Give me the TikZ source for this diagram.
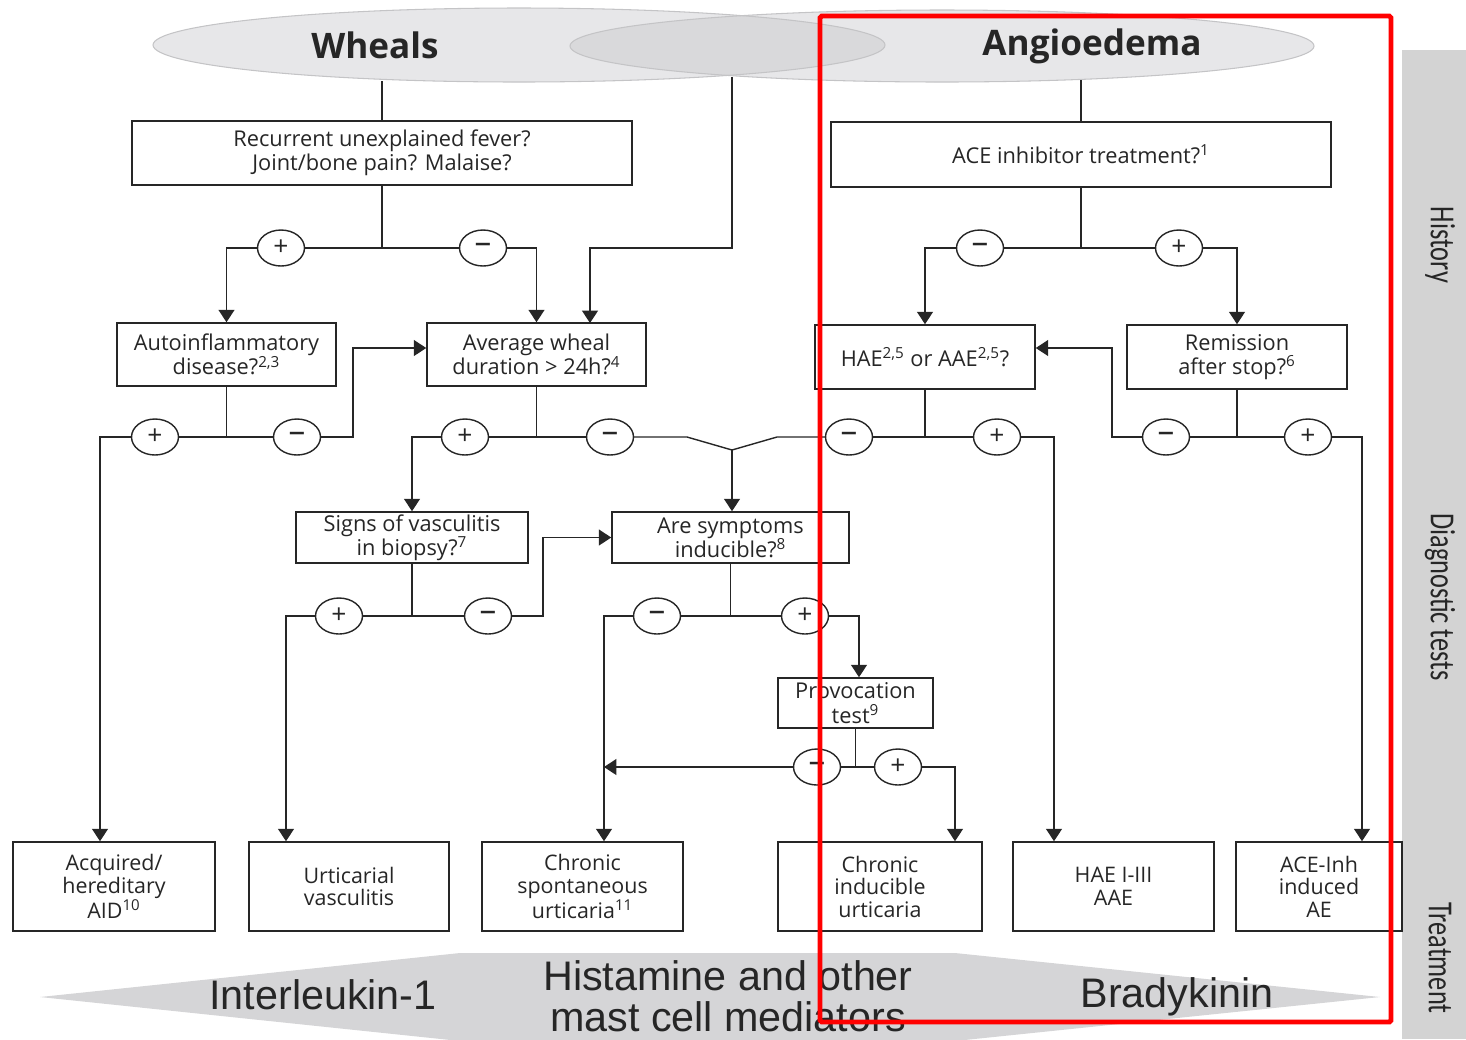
\documentclass[tikz,border=0pt]{standalone}
\usepackage{fontspec}
\setmainfont{Open Sans}
\newfontfamily\barfont{Carlito}
\newfontfamily\medfont{Liberation Sans}
\usetikzlibrary{arrows.meta, shapes.geometric}
\definecolor{inkgray}{HTML}{262626}
\definecolor{capfill}{HTML}{E7E7E9}
\definecolor{capover}{HTML}{D9D9DB}
\definecolor{capline}{HTML}{C4C4C6}
\definecolor{bandgray}{HTML}{D5D5D7}
\definecolor{bargray}{HTML}{D3D3D3}

\begin{document}
\begin{tikzpicture}[x=0.02cm, y=-0.02cm, >={Triangle[length=7pt, width=9pt]},
    every node/.style={text=inkgray},
    qbox/.style={draw=inkgray, line width=0.9pt, align=center, inner sep=0pt, font=\fontsize{12.4}{13.8}\selectfont},
    endbox/.style={qbox, minimum height=1.78cm, font=\fontsize{12.2}{12.8}\selectfont},
    sign/.style={ellipse, draw=inkgray, fill=white, line width=0.8pt, minimum width=0.94cm, minimum height=0.72cm, inner sep=0pt, font=\fontsize{15}{15}\selectfont},
    neg/.style={sign, font=\fontsize{19}{19}\selectfont},
    link/.style={draw=inkgray, line width=0.8pt},
    sidelabel/.style={rotate=-90, font=\barfont\fontsize{20}{20}\selectfont},
    bandlabel/.style={align=center, font=\medfont\fontsize{23.5}{23.5}\selectfont}]
    \useasboundingbox (0,0) rectangle (1466,1039);

    % Background bands
    \fill[bandgray] (40,997) -- (460,953) -- (955,953) -- (1380,997) -- (955,1041) -- (460,1041) -- cycle;
    \fill[bargray] (1402,50) rectangle (1466,1039);

    % Heading ellipses
    \fill[capfill] (519,45) ellipse [x radius=366, y radius=37];
    \fill[capfill] (942,46) ellipse [x radius=372, y radius=36];
    \begin{scope}
        \clip (519,45) ellipse [x radius=366, y radius=37];
        \fill[capover] (942,46) ellipse [x radius=372, y radius=36];
    \end{scope}
    \draw[capline, line width=0.6pt] (519,45) ellipse [x radius=366, y radius=37];
    \draw[capline, line width=0.6pt] (942,46) ellipse [x radius=372, y radius=36];
    \node[font=\bfseries\fontsize{20}{20}\selectfont] (Wh) at (375,45) {Wheals};
    \node[font=\bfseries\fontsize{20}{20}\selectfont] (Ag) at (1092,46) {Angioedema};

    % Nodes
    \node[qbox, minimum width=10cm, minimum height=1.28cm] (RF) at (382,153) {Recurrent unexplained fever?\\Joint/bone pain? Malaise?};
    \node[qbox, minimum width=10cm, minimum height=1.3cm] (ACE) at (1081,154.5) {ACE inhibitor treatment?\textsuperscript{1}};
    \node[qbox, minimum width=4.38cm, minimum height=1.26cm] (AI) at (226.5,354.5) {Autoinflammatory\\disease?\textsuperscript{2,3}};
    \node[qbox, minimum width=4.38cm, minimum height=1.26cm] (AW) at (536.5,354.5) {Average wheal\\duration > 24h?\textsuperscript{4}};
    \node[qbox, minimum width=4.4cm, minimum height=1.28cm] (HAE) at (925,357) {HAE\textsuperscript{2,5} or AAE\textsuperscript{2,5}?};
    \node[qbox, minimum width=4.4cm, minimum height=1.28cm] (REM) at (1237,357) {Remission\\after stop?\textsuperscript{6}};
    \node[qbox, minimum width=4.64cm, minimum height=1.02cm] (SV) at (412,537.5) {Signs of vasculitis\\in biopsy?\textsuperscript{7}};
    \node[qbox, minimum width=4.74cm, minimum height=1.02cm] (AS) at (730.5,537.5) {Are symptoms\\inducible?\textsuperscript{8}};
    \node[qbox, minimum width=3.1cm, minimum height=1cm] (PT) at (855.5,703) {Provocation\\test\textsuperscript{9}};

    \node[endbox, minimum width=4.04cm] (AID) at (114,886.5) {Acquired/\\hereditary\\AID\textsuperscript{10}};
    \node[endbox, minimum width=4cm] (UV) at (349,886.5) {Urticarial\\vasculitis};
    \node[endbox, minimum width=4.02cm] (CSU) at (582.5,886.5) {Chronic\\spontaneous\\urticaria\textsuperscript{11}};
    \node[endbox, minimum width=4.08cm] (CIU) at (880,886.5) {Chronic\\inducible\\urticaria};
    \node[endbox, minimum width=4.02cm] (HAEb) at (1113.5,886.5) {HAE I-III\\AAE};
    \node[endbox, minimum width=3.32cm] (ACEb) at (1319,886.5) {ACE-Inh\\induced\\AE};

    % Answers
    \node[sign] (RFp) at (281,248) {+};
    \node[neg] (RFm) at (483,248) {--};
    \node[neg] (ACEm) at (980,248) {--};
    \node[sign] (ACEp) at (1179,248) {+};
    \node[sign] (AIp) at (155,437) {+};
    \node[neg] (AIm) at (297,437) {--};
    \node[sign] (AWp) at (465,437) {+};
    \node[neg] (AWm) at (610,437) {--};
    \node[neg] (HAEm) at (849,437) {--};
    \node[sign] (HAEp) at (997,437) {+};
    \node[neg] (REMm) at (1166,437) {--};
    \node[sign] (REMp) at (1308,437) {+};
    \node[sign] (SVp) at (339,616) {+};
    \node[neg] (SVm) at (488,616) {--};
    \node[neg] (ASm) at (657,616) {--};
    \node[sign] (ASp) at (805,616) {+};
    \node[neg] (PTm) at (817,767) {--};
    \node[sign] (PTp) at (898,767) {+};

    % Bends
    \coordinate (whtop) at (380,81);
    \coordinate (agtop) at (1078,80);
    \coordinate (wtop) at (732,77);
    \coordinate (wk) at (732,248);
    \coordinate (avgin) at (590,323);
    \coordinate (k1) at (100,437);
    \coordinate (k2) at (353,437);
    \coordinate (k3) at (687,437);
    \coordinate (vj) at (732,450);
    \coordinate (k4) at (777,437);
    \coordinate (k5) at (1054,437);
    \coordinate (k6) at (1112,437);
    \coordinate (k7) at (1362,437);
    \coordinate (k8) at (286,616);
    \coordinate (k9) at (543,616);
    \coordinate (k10) at (604,616);
    \coordinate (k11) at (859,616);
    \coordinate (k12) at (955,767);

    % Directed edges
    \draw[link] (RF.north) -- (RF.north |- whtop);
    \draw[link, ->] (wtop) -- (wk) -| (avgin);
    \draw[link] (RF.south) -- (RF.south |- RFp);
    \draw[link] (RFp) -- (RFm);
    \draw[link, ->] (RFp) -| (AI);
    \draw[link, ->] (RFm) -| (AW);

    \draw[link] (AI.south) -- (AI.south |- AIp);
    \draw[link] (AIp) -- (AIm);
    \draw[link, ->] (AIp) -- (k1) -- (k1 |- AID.north);
    \draw[link, ->] (AIm) -- (k2) |- ([yshift=0.13cm]AW.west);

    \draw[link] (AW.south) -- (AW.south |- AWp);
    \draw[link] (AWp) -- (AWm);
    \draw[link, ->] (AWp) -| (SV);
    \draw[link] (AWm) -- (k3) -- (vj) -- (k4) -- (HAEm);
    \draw[link, ->] (vj) -- (vj |- AS.north);

    \draw[link] (ACE.north) -- (ACE.north |- agtop);
    \draw[link] (ACE.south) -- (ACE.south |- ACEm);
    \draw[link] (ACEm) -- (ACEp);
    \draw[link, ->] (ACEm) -| (HAE);
    \draw[link, ->] (ACEp) -| (REM);

    \draw[link] (HAE.south) -- (HAE.south |- HAEm);
    \draw[link] (HAEm) -- (HAEp);
    \draw[link, ->] (HAEp) -- (k5) -- (k5 |- HAEb.north);

    \draw[link] (REM.south) -- (REM.south |- REMm);
    \draw[link] (REMm) -- (REMp);
    \draw[link, ->] (REMm) -- (k6) |- ([yshift=0.18cm]HAE.east);
    \draw[link, ->] (REMp) -- (k7) -- (k7 |- ACEb.north);

    \draw[link] (SV.south) -- (SV.south |- SVp);
    \draw[link] (SVp) -- (SVm);
    \draw[link, ->] (SVp) -- (k8) -- (k8 |- UV.north);
    \draw[link, ->] (SVm) -- (k9) |- (AS.west);

    \draw[link] (AS.south) -- (AS.south |- ASm);
    \draw[link] (ASm) -- (ASp);
    \draw[link, ->] (ASm) -- (k10) -- (k10 |- CSU.north);
    \draw[link, ->] (ASp) -- (k11) -- (k11 |- PT.north);

    \draw[link] (PT.south) -- (PT.south |- PTm);
    \draw[link] (PTm) -- (PTp);
    \draw[link, ->] (PTm) -- (k10 |- PTm);
    \draw[link, ->] (PTp) -- (k12) -- (k12 |- CIU.north);

    % Mediators and stages
    \node[bandlabel] (IL) at (323,995) {Interleukin-1};
    \node[bandlabel] (HM) at (728,996) {Histamine and other\\mast cell mediators};
    \node[bandlabel] (BK) at (1177,997) {Bradykinin};
    \node[sidelabel] (hist) at (1440,245) {\scalebox{0.75}[1]{History}};
    \node[sidelabel] (diag) at (1440,597) {\scalebox{0.75}[1]{Diagnostic tests}};
    \node[sidelabel] (treat) at (1440,958) {\scalebox{0.75}[1]{Treatment}};

    % Highlight
    \draw[red, line width=2.8pt, rounded corners=1pt] (820,16) rectangle (1391,1022);
\end{tikzpicture}
\end{document}
